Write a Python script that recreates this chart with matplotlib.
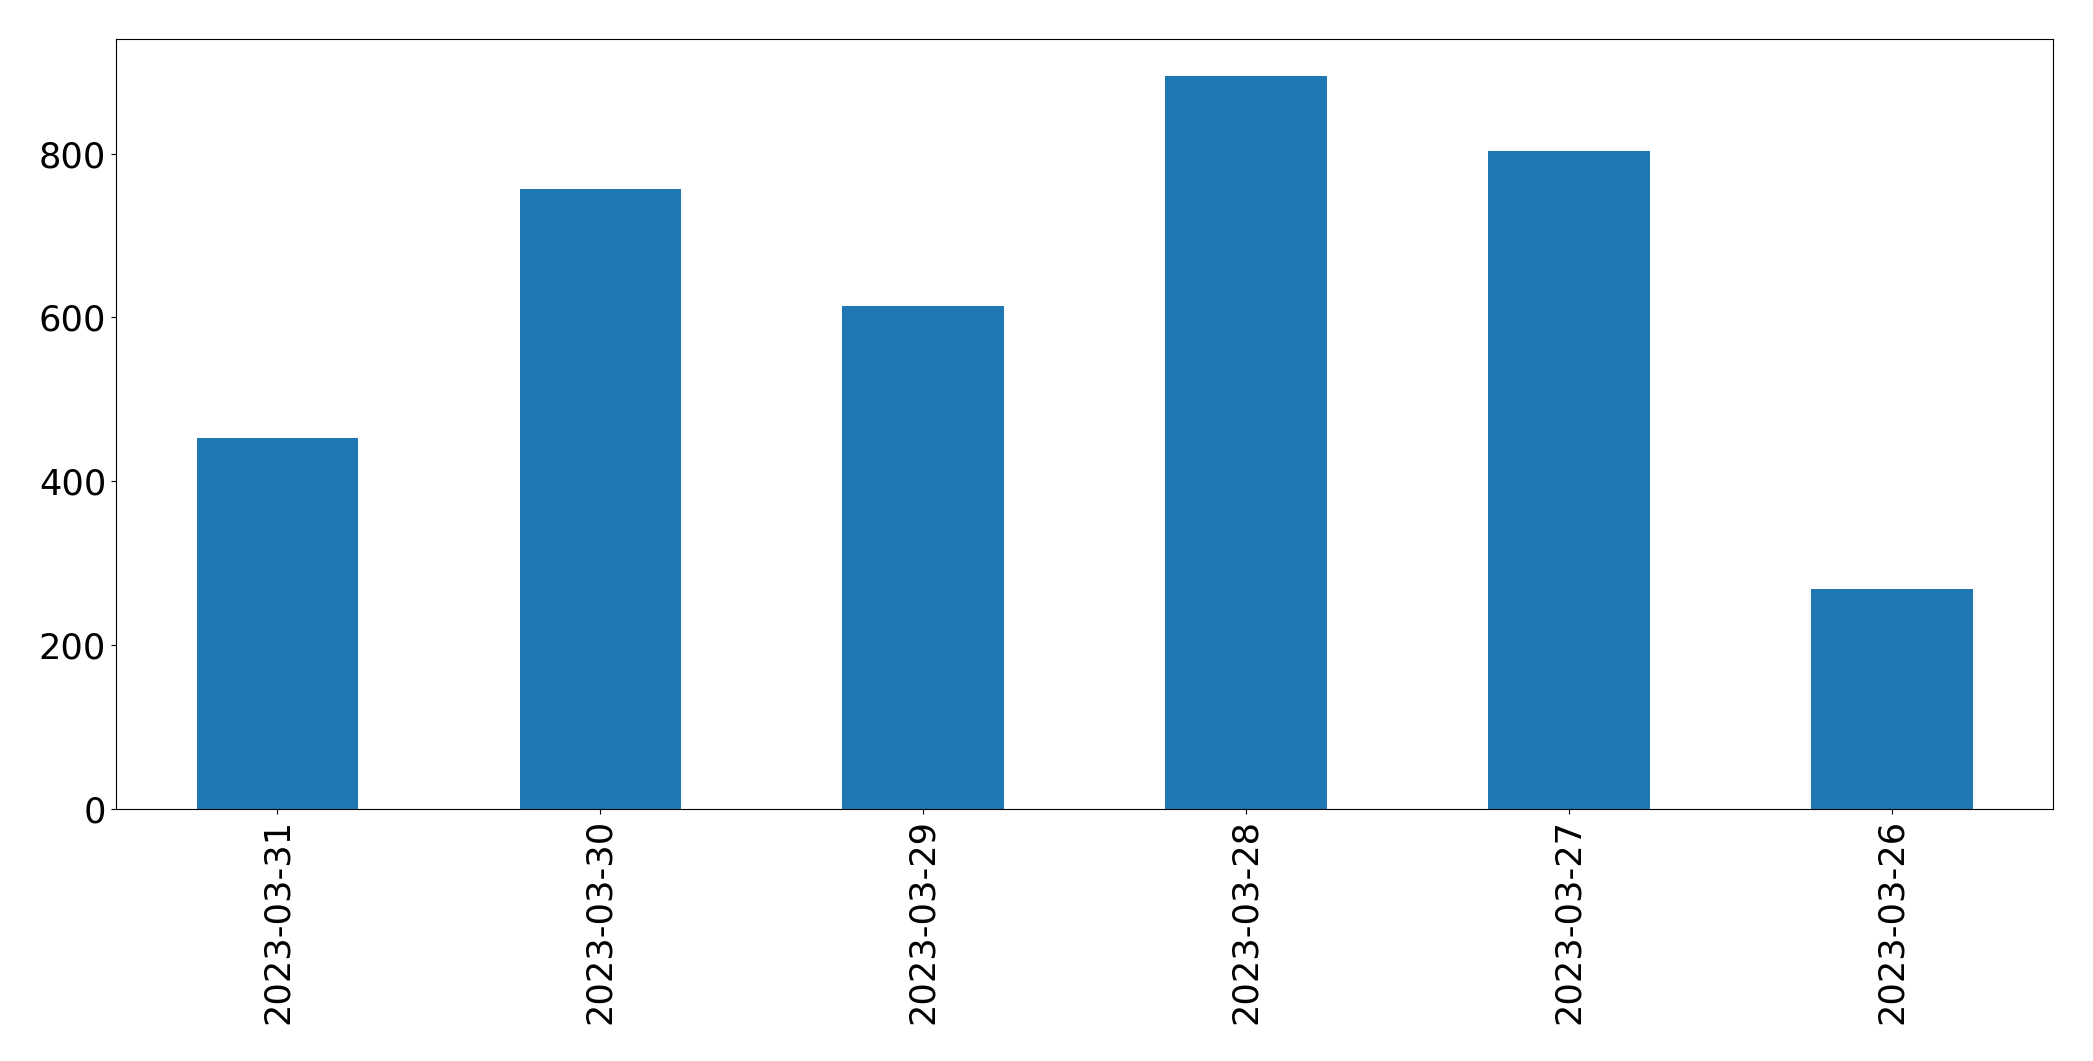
import matplotlib
matplotlib.use("Agg")
import matplotlib.pyplot as plt
import numpy as np

# daily counts, newest first (as in the reference)
dates = ["2023-03-31", "2023-03-30", "2023-03-29", "2023-03-28", "2023-03-27", "2023-03-26"]
counts = [453, 757, 614, 895, 803, 269]

fig = plt.figure(figsize=(20.93, 10.61), dpi=100)
ax = fig.add_axes([0.0554, 0.2375, 0.9256, 0.7257])

x = np.arange(len(dates))
ax.bar(x, counts, width=0.5, color="#1f77b4")
ax.set_xlim(-0.5, len(dates) - 0.5)
ax.set_xticks(x)
ax.set_xticklabels(dates, rotation=90)
ax.tick_params(axis="both", labelsize=25.3)

fig.savefig("out.png", dpi=100)
